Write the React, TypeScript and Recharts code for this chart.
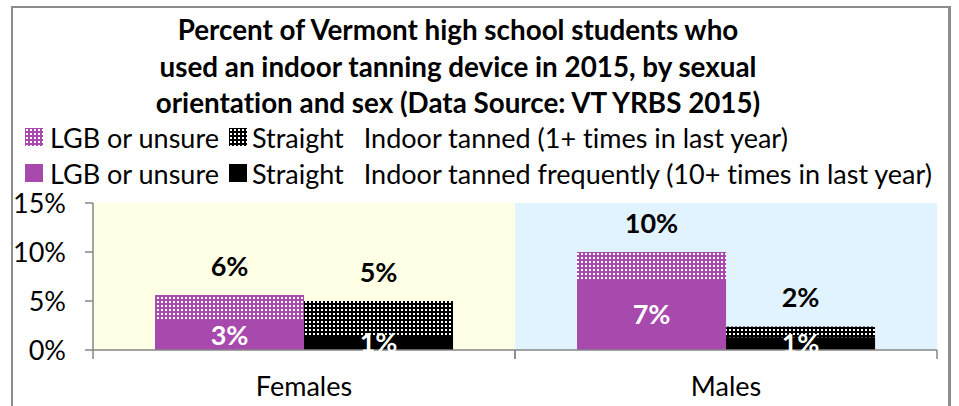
import React from "react";
import { BarChart, Bar, XAxis, YAxis, LabelList, ReferenceArea } from "recharts";

const categories = ["Females", "Males"];
const lgbTanned = [5.6, 10.0];
const straightTanned = [5.0, 2.4];
const lgbFrequent = [3.0, 7.2];
const straightFrequent = [1.45, 1.3];
const yTicks = [0, 5, 10, 15];
const titleLines = [
  "Percent of Vermont high school students who",
  "used an indoor tanning device in 2015, by sexual",
  "orientation and sex (Data Source: VT YRBS 2015)",
];
const legendRows = [
  { lgb: "LGB or unsure", straight: "Straight", desc: "Indoor tanned (1+ times in last year)", patterned: true },
  { lgb: "LGB or unsure", straight: "Straight", desc: "Indoor tanned frequently (10+ times in last year)", patterned: false },
];

const data = categories.map((c, i) => ({
  cat: c,
  lgbTanned: lgbTanned[i],
  straightTanned: straightTanned[i],
  lgbFrequent: lgbFrequent[i],
  straightFrequent: straightFrequent[i],
}));

const W = 959;
const H = 406;
const MARGIN = { top: 203, right: 22, bottom: 0, left: 0 };
const X_AXIS_H = 56;
const Y_AXIS_W = 93;
const PLOT_W = W - MARGIN.left - Y_AXIS_W - MARGIN.right;
const FONT = "Lato, 'Noto Sans', sans-serif";
const PURPLE = "#A849AE";
const AXIS = "#868686";
const CREAM = "#FFFFE6";
const BLUE = "#E1F3FE";
const NOLIG = { fontVariantLigatures: "none" as const };

const pct = (v: number) => `${Math.round(v)}%`;

const XTick = (props: any) => {
  const { x, y, payload } = props;
  const half = PLOT_W / categories.length / 2;
  return (
    <g>
      <line x1={x - half} x2={x - half} y1={y} y2={y + 9} stroke={AXIS} strokeWidth={1.5} />
      <line x1={x + half} x2={x + half} y1={y} y2={y + 9} stroke={AXIS} strokeWidth={1.5} />
      <text x={x} y={y + 46} textAnchor="middle" fontSize={27} fontFamily={FONT} fill="#000" style={NOLIG}>
        {payload.value}
      </text>
    </g>
  );
};

const PatternDefs = ({ prefix }: { prefix: string }) => (
  <defs>
    <pattern id={`${prefix}Purple`} patternUnits="userSpaceOnUse" width={4} height={4}>
      <rect width={4} height={4} fill={PURPLE} />
      <rect x={1} y={1} width={2} height={2} fill="#fff" />
    </pattern>
    <pattern id={`${prefix}Black`} patternUnits="userSpaceOnUse" width={4} height={4}>
      <rect width={4} height={4} fill="#000" />
      <rect x={1} y={1} width={2} height={2} fill="#fff" />
    </pattern>
  </defs>
);

const Icon = ({ fill }: { fill: string }) => (
  <svg width={18} height={18} style={{ display: "block" }}>
    <rect width={18} height={18} fill={fill} />
  </svg>
);

export default function App() {
  return (
    <div style={{ position: "absolute", left: 0, top: 0, width: W, height: H, overflow: "hidden", background: "#fff" }}>
      <svg width={0} height={0} style={{ position: "absolute" }}>
        <PatternDefs prefix="lg" />
      </svg>
      <div
        style={{
          position: "absolute",
          left: 11,
          top: 6,
          width: 940,
          height: 440,
          boxSizing: "border-box",
          border: "2px solid #8c8c8c",
          borderRightWidth: 3,
        }}
      />
      <div style={{ position: "absolute", left: 0, top: 0 }}>
        <BarChart width={W} height={H} data={data} margin={MARGIN} barCategoryGap="14.7%" barGap={0}>
          <PatternDefs prefix="pt" />
          <XAxis
            xAxisId="tot"
            dataKey="cat"
            height={X_AXIS_H}
            tickLine={false}
            tickSize={0}
            tickMargin={0}
            axisLine={{ stroke: AXIS, strokeWidth: 1.5 }}
            tick={<XTick />}
            interval={0}
          />
          <XAxis xAxisId="freq" dataKey="cat" hide height={0} />
          <YAxis
            domain={[0, 15]}
            ticks={yTicks}
            tickFormatter={(v) => `${v}%`}
            width={Y_AXIS_W}
            tickSize={8}
            tickMargin={19}
            axisLine={{ stroke: AXIS, strokeWidth: 1.5 }}
            tickLine={{ stroke: AXIS, strokeWidth: 1.5 }}
            tick={{ fill: "#000", fontSize: 27, fontFamily: FONT }}
            interval={0}
          />
          <ReferenceArea xAxisId="tot" x1={categories[0]} x2={categories[0]} y1={0} y2={15} fill={CREAM} fillOpacity={1} stroke="none" />
          <ReferenceArea xAxisId="tot" x1={categories[1]} x2={categories[1]} y1={0} y2={15} fill={BLUE} fillOpacity={1} stroke="none" />
          <Bar xAxisId="tot" dataKey="lgbTanned" fill="url(#ptPurple)" isAnimationActive={false}>
            <LabelList dataKey="lgbTanned" position="top" offset={19} formatter={pct} fill="#000" fontSize={27} fontWeight="bold" fontFamily={FONT} />
          </Bar>
          <Bar xAxisId="tot" dataKey="straightTanned" fill="url(#ptBlack)" isAnimationActive={false}>
            <LabelList dataKey="straightTanned" position="top" offset={19} formatter={pct} fill="#000" fontSize={27} fontWeight="bold" fontFamily={FONT} />
          </Bar>
          <Bar xAxisId="freq" dataKey="lgbFrequent" fill={PURPLE} isAnimationActive={false}>
            <LabelList dataKey="lgbFrequent" position="center" formatter={pct} fill="#fff" fontSize={27} fontWeight="bold" fontFamily={FONT} />
          </Bar>
          <Bar xAxisId="freq" dataKey="straightFrequent" fill="#000" isAnimationActive={false}>
            <LabelList dataKey="straightFrequent" position="center" formatter={pct} fill="#fff" fontSize={27} fontWeight="bold" fontFamily={FONT} />
          </Bar>
        </BarChart>
      </div>
      <svg width={W} height={H} style={{ position: "absolute", left: 0, top: 0, pointerEvents: "none" }}>
        {titleLines.map((t, i) => (
          <text key={i} x={458} y={40 + i * 36.5} textAnchor="middle" fontSize={27.8} fontWeight="bold" fontFamily={FONT} fill="#000" style={NOLIG}>
            {t}
          </text>
        ))}
      </svg>
      {legendRows.map((r, i) => (
        <div
          key={i}
          style={{
            position: "absolute",
            left: 25,
            top: 119 + i * 36,
            height: 36,
            display: "flex",
            alignItems: "center",
            fontFamily: FONT,
            fontSize: 27,
            color: "#000",
            whiteSpace: "nowrap",
            fontVariantLigatures: "none",
          }}
        >
          <Icon fill={r.patterned ? "url(#lgPurple)" : PURPLE} />
          <span style={{ marginLeft: 7 }}>{r.lgb}</span>
          <span style={{ marginLeft: 10 }}>
            <Icon fill={r.patterned ? "url(#lgBlack)" : "#000"} />
          </span>
          <span style={{ marginLeft: 5 }}>{r.straight}</span>
          <span style={{ marginLeft: 20 }}>{r.desc}</span>
        </div>
      ))}
    </div>
  );
}
